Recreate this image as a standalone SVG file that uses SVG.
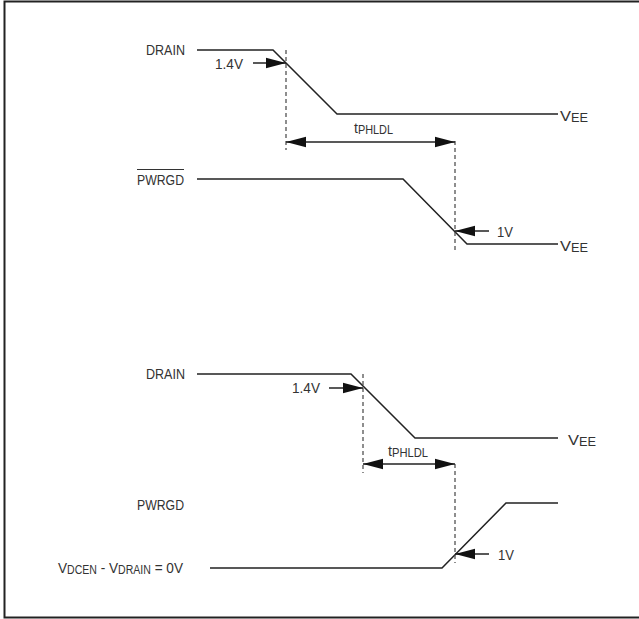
<svg xmlns="http://www.w3.org/2000/svg" width="639" height="619" viewBox="0 0 639 619">
<style>
text{font-family:"Liberation Sans",Arial,sans-serif;font-size:15.5px;fill:#333}
.sub{font-size:12px}
.sig{fill:none;stroke:#222;stroke-width:1.5}
.dash{fill:none;stroke:#444;stroke-width:1.2;stroke-dasharray:4 3}
.arr{fill:none;stroke:#222;stroke-width:1.5;marker-end:url(#ah)}
.darr{fill:none;stroke:#222;stroke-width:1.5;marker-end:url(#ah);marker-start:url(#ah)}
</style>
<defs>
<marker id="ah" markerUnits="userSpaceOnUse" markerWidth="20" markerHeight="12" viewBox="0 0 19 10" refX="19" refY="5" orient="auto-start-reverse">
<path d="M0,0 L19,5 L0,10 z" fill="#111"/>
</marker>
</defs>
<rect x="4.5" y="1.5" width="636" height="616" fill="#fff" stroke="#222" stroke-width="2"/>

<g id="drain1">
<text x="146" y="55" textLength="39" lengthAdjust="spacingAndGlyphs">DRAIN</text>
<polyline class="sig" points="197,50 273,50 337,114 558,114"/>
<text x="560" y="121" textLength="28" lengthAdjust="spacingAndGlyphs">V<tspan class="sub" dy="1">EE</tspan></text>
</g>
<g id="pwrgd1">
<text x="137" y="185" textLength="47" lengthAdjust="spacingAndGlyphs">PWRGD</text>
<line x1="137" y1="169.5" x2="184" y2="169.5" stroke="#333" stroke-width="1"/>
<polyline class="sig" points="197,179 403,179 467,244 558,244"/>
<text x="560" y="251" textLength="28" lengthAdjust="spacingAndGlyphs">V<tspan class="sub" dy="1">EE</tspan></text>
</g>
<g id="drain2">
<text x="146" y="379" textLength="39" lengthAdjust="spacingAndGlyphs">DRAIN</text>
<polyline class="sig" points="197,374 351,374 415,438 558,438"/>
<text x="568" y="445" textLength="28" lengthAdjust="spacingAndGlyphs">V<tspan class="sub" dy="1">EE</tspan></text>
</g>
<g id="pwrgd2">
<text x="137" y="510" textLength="47" lengthAdjust="spacingAndGlyphs">PWRGD</text>
<text x="58" y="573" textLength="125" lengthAdjust="spacingAndGlyphs">V<tspan class="sub" dy="1">DCEN</tspan><tspan dy="-1"> - V</tspan><tspan class="sub" dy="1">DRAIN</tspan><tspan dy="-1"> = 0V</tspan></text>
<polyline class="sig" points="210,568 442,568 506,503 558,503"/>
</g>

<g id="connectors">
<line class="dash" x1="286" y1="50" x2="286" y2="150"/>
<line class="dash" x1="455" y1="141" x2="455" y2="253"/>
<line class="dash" x1="363" y1="374" x2="363" y2="473"/>
<line class="dash" x1="455" y1="464" x2="455" y2="563"/>

<line class="arr" x1="253" y1="63" x2="286" y2="63"/>
<text x="215" y="69" textLength="28" lengthAdjust="spacingAndGlyphs">1.4V</text>
<line class="darr" x1="286" y1="142" x2="455" y2="142"/>
<text x="354" y="133" textLength="39" lengthAdjust="spacingAndGlyphs">t<tspan class="sub" dy="1">PHLDL</tspan></text>
<line class="arr" x1="489" y1="231" x2="455" y2="231"/>
<text x="497" y="237" textLength="16" lengthAdjust="spacingAndGlyphs">1V</text>

<line class="arr" x1="329" y1="388" x2="363" y2="388"/>
<text x="292" y="393" textLength="28" lengthAdjust="spacingAndGlyphs">1.4V</text>
<line class="darr" x1="363" y1="464" x2="455" y2="464"/>
<text x="388" y="456" textLength="40" lengthAdjust="spacingAndGlyphs">t<tspan class="sub" dy="1">PHLDL</tspan></text>
<line class="arr" x1="489" y1="554" x2="455" y2="554"/>
<text x="498" y="560" textLength="16" lengthAdjust="spacingAndGlyphs">1V</text>
</g>
</svg>
